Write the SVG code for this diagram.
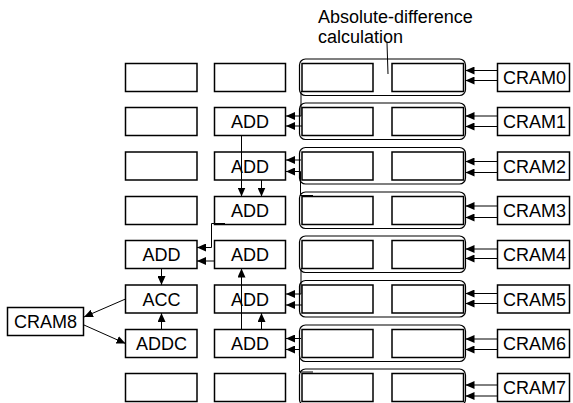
<svg xmlns="http://www.w3.org/2000/svg" width="573" height="403" viewBox="0 0 573 403">
<defs>
<marker id="ah" markerUnits="userSpaceOnUse" markerWidth="9" markerHeight="8" refX="9" refY="4" orient="auto">
<path d="M0,0 L9,4 L0,8 z" fill="#000"/>
</marker>
<style>
.b{fill:#fff;stroke:#000;stroke-width:1.5}
.ct{fill:none;stroke:#000;stroke-width:1.2}
.t{font-family:"Liberation Sans",Arial,sans-serif;font-size:18px;fill:#000;text-anchor:middle}
.c{fill:none;stroke:#000;stroke-width:1;marker-end:url(#ah)}
.l{fill:none;stroke:#000;stroke-width:1}
</style>
</defs>
<rect width="573" height="403" fill="#fff"/>
<g id="label">
<text class="t" style="text-anchor:start" x="318" y="22.5">Absolute-difference</text>
<text class="t" style="text-anchor:start" x="318" y="42.5">calculation</text>
</g>
<g id="row0">
<rect class="b" x="125.5" y="63.5" width="71.5" height="28"/>
<rect class="b" x="214.5" y="63.5" width="71" height="28"/>
<rect class="ct" x="299.5" y="59" width="166" height="36.5" rx="6"/>
<rect class="b" x="302" y="63.5" width="71" height="28"/>
<rect class="b" x="392" y="63.5" width="71.5" height="28"/>
</g>
<g id="row1">
<rect class="b" x="125.5" y="107.5" width="71.5" height="28"/>
<g id="add1"><rect class="b" x="214.5" y="107.5" width="71" height="28"/><text class="t" x="250" y="128">ADD</text></g>
<rect class="ct" x="299.5" y="103" width="166" height="36.5" rx="6"/>
<rect class="b" x="302" y="107.5" width="71" height="28"/>
<rect class="b" x="392" y="107.5" width="71.5" height="28"/>
</g>
<g id="row2">
<rect class="b" x="125.5" y="152" width="71.5" height="28"/>
<g id="add2"><rect class="b" x="214.5" y="152" width="71" height="28"/><text class="t" x="250" y="172.5">ADD</text></g>
<rect class="ct" x="299.5" y="147.5" width="166" height="36.5" rx="6"/>
<rect class="b" x="302" y="152" width="71" height="28"/>
<rect class="b" x="392" y="152" width="71.5" height="28"/>
</g>
<g id="row3">
<rect class="b" x="125.5" y="196.5" width="71.5" height="28"/>
<g id="add3"><rect class="b" x="214.5" y="196.5" width="71" height="28"/><text class="t" x="250" y="217">ADD</text></g>
<rect class="ct" x="299.5" y="192" width="166" height="36.5" rx="6"/>
<rect class="b" x="302" y="196.5" width="71" height="28"/>
<rect class="b" x="392" y="196.5" width="71.5" height="28"/>
</g>
<g id="row4">
<g id="addA4"><rect class="b" x="125.5" y="240.5" width="71.5" height="28"/><text class="t" x="161.5" y="261">ADD</text></g>
<g id="add4"><rect class="b" x="214.5" y="240.5" width="71" height="28"/><text class="t" x="250" y="261">ADD</text></g>
<rect class="ct" x="299.5" y="236" width="166" height="36.5" rx="6"/>
<rect class="b" x="302" y="240.5" width="71" height="28"/>
<rect class="b" x="392" y="240.5" width="71.5" height="28"/>
</g>
<g id="row5">
<g id="acc"><rect class="b" x="125.5" y="285" width="71.5" height="28"/><text class="t" x="161.5" y="305.5">ACC</text></g>
<g id="add5"><rect class="b" x="214.5" y="285" width="71" height="28"/><text class="t" x="250" y="305.5">ADD</text></g>
<rect class="ct" x="299.5" y="280.5" width="166" height="36.5" rx="6"/>
<rect class="b" x="302" y="285" width="71" height="28"/>
<rect class="b" x="392" y="285" width="71.5" height="28"/>
</g>
<g id="row6">
<g id="addc"><rect class="b" x="125.5" y="329.5" width="71.5" height="28"/><text class="t" x="161.5" y="350">ADDC</text></g>
<g id="add6"><rect class="b" x="214.5" y="329.5" width="71" height="28"/><text class="t" x="250" y="350">ADD</text></g>
<rect class="ct" x="299.5" y="325" width="166" height="36.5" rx="6"/>
<rect class="b" x="302" y="329.5" width="71" height="28"/>
<rect class="b" x="392" y="329.5" width="71.5" height="28"/>
</g>
<g id="row7">
<rect class="b" x="125.5" y="373.5" width="71.5" height="28"/>
<rect class="b" x="214.5" y="373.5" width="71" height="28"/>
<rect class="ct" x="299.5" y="369" width="166" height="36.5" rx="6"/>
<rect class="b" x="302" y="373.5" width="71" height="28"/>
<rect class="b" x="392" y="373.5" width="71.5" height="28"/>
</g>
<g id="cram0"><rect class="b" x="497.5" y="63.5" width="72" height="28"/><text class="t" x="534.5" y="84">CRAM0</text></g>
<g id="cram1"><rect class="b" x="497.5" y="107.5" width="72" height="28"/><text class="t" x="534.5" y="128">CRAM1</text></g>
<g id="cram2"><rect class="b" x="497.5" y="152" width="72" height="28"/><text class="t" x="534.5" y="172.5">CRAM2</text></g>
<g id="cram3"><rect class="b" x="497.5" y="196.5" width="72" height="28"/><text class="t" x="534.5" y="217">CRAM3</text></g>
<g id="cram4"><rect class="b" x="497.5" y="240.5" width="72" height="28"/><text class="t" x="534.5" y="261">CRAM4</text></g>
<g id="cram5"><rect class="b" x="497.5" y="285" width="72" height="28"/><text class="t" x="534.5" y="305.5">CRAM5</text></g>
<g id="cram6"><rect class="b" x="497.5" y="329.5" width="72" height="28"/><text class="t" x="534.5" y="350">CRAM6</text></g>
<g id="cram7"><rect class="b" x="497.5" y="373.5" width="72" height="28"/><text class="t" x="534.5" y="394">CRAM7</text></g>
<g id="cram8"><rect class="b" x="7.5" y="307.5" width="76" height="28"/><text class="t" x="45.5" y="328">CRAM8</text></g>
<g id="connectors">
<path class="l" d="M387,43 L388,74"/>
<path class="c" d="M497.5,70.5 H465.5"/><path class="c" d="M497.5,80.5 H465.5"/>
<path class="c" d="M497.5,116 H465.5"/><path class="c" d="M497.5,126.5 H465.5"/>
<path class="c" d="M497.5,161.5 H465.5"/><path class="c" d="M497.5,172.5 H465.5"/>
<path class="c" d="M497.5,206 H465.5"/><path class="c" d="M497.5,217.5 H465.5"/>
<path class="c" d="M497.5,249 H465.5"/><path class="c" d="M497.5,258.5 H465.5"/>
<path class="c" d="M497.5,293.5 H465.5"/><path class="c" d="M497.5,303.5 H465.5"/>
<path class="c" d="M497.5,339 H465.5"/><path class="c" d="M497.5,349.5 H465.5"/>
<path class="c" d="M497.5,385 H465.5"/><path class="c" d="M497.5,396 H465.5"/>
<path class="c" d="M315,91.5 H301 V116 H286"/>
<path class="c" d="M302,126 H286"/>
<path class="c" d="M301,160 H286"/>
<path class="c" d="M313,195.5 H300.5 V171.5 H286"/>
<path class="c" d="M315,268.5 H301 V294 H286"/>
<path class="c" d="M302,305 H286"/>
<path class="c" d="M301,338.5 H286"/>
<path class="c" d="M313,372 H299.5 V349.5 H286"/>
<path class="c" d="M241.5,135.5 V196.5"/>
<path class="c" d="M261.5,180 V196.5"/>
<path class="c" d="M225,223.5 H211.5 V247.5 H197"/>
<path class="c" d="M214.5,261 H197"/>
<path class="c" d="M241.5,329.5 V268.5"/>
<path class="c" d="M261.5,329.5 V313"/>
<path class="c" d="M161.5,268.5 V285"/>
<path class="c" d="M161.5,329.5 V313"/>
<path class="c" d="M125.5,299 L84,317"/>
<path class="c" d="M84,325 L125.5,343.5"/>
</g>
</svg>
